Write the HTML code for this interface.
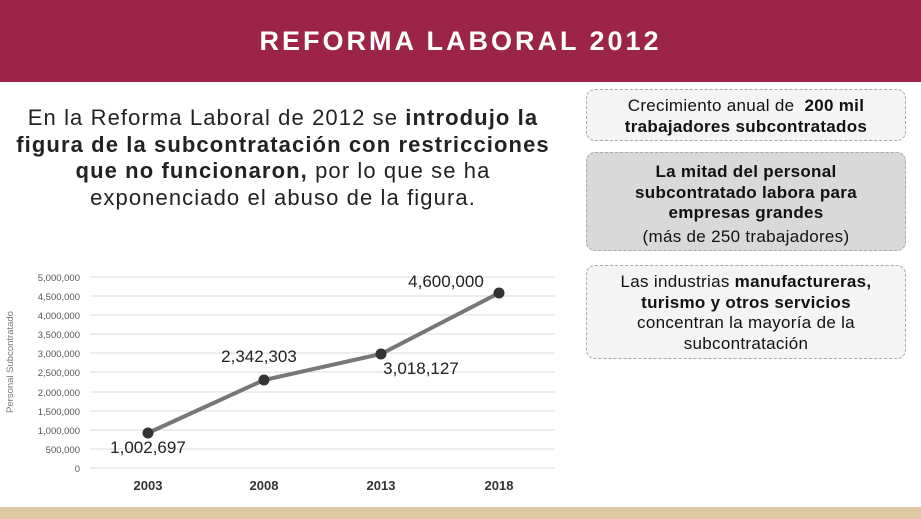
<!DOCTYPE html>
<html><head><meta charset="utf-8"><style>
body{margin:0;width:921px;height:519px;overflow:hidden;background:#fff;font-family:"Liberation Sans",sans-serif;position:relative}
.hdr{position:absolute;left:0;top:0;width:921px;height:82px;background:#9d2449;color:#fff;font-weight:bold;font-size:27px;letter-spacing:3px;text-align:center;line-height:82px}
.bot{position:absolute;left:0;top:507px;width:921px;height:12px;background:#ddc9a3}
.intro{position:absolute;left:0px;top:105px;width:566px;text-align:center;font-size:22px;line-height:26.5px;color:#222;white-space:nowrap;letter-spacing:1.1px}
.box{position:absolute;left:586px;width:320px;border:1px dashed #aaa;border-radius:9px;text-align:center;color:#111;font-size:17px;line-height:20.5px;box-sizing:border-box;white-space:nowrap;letter-spacing:0.3px}
</style></head><body>
<div class="hdr">REFORMA LABORAL 2012</div>
<div class="intro">En la Reforma Laboral de 2012 se <b>introdujo la</b><br><b>figura de la subcontratación con restricciones</b><br><b>que no funcionaron,</b> por lo que se ha<br>exponenciado el abuso de la figura.</div>
<div class="box" style="top:89px;height:52px;background:#f4f4f4;padding-top:6px">Crecimiento anual de &nbsp;<b>200 mil</b><br><b>trabajadores subcontratados</b></div>
<div class="box" style="top:152px;height:99px;background:#d9d9d9;padding-top:9px"><b>La mitad del personal<br>subcontratado labora para<br>empresas grandes</b><br><span style="line-height:25px">(más de 250 trabajadores)</span></div>
<div class="box" style="top:265px;height:94px;background:#f4f4f4;padding-top:6px">Las industrias <b>manufactureras,</b><br><b>turismo y otros servicios</b><br>concentran la mayoría de la<br>subcontratación</div>
<svg width="921" height="519" style="position:absolute;left:0;top:0" font-family="Liberation Sans, sans-serif">
<g stroke="#ddd" stroke-width="1">
<line x1="90" x2="555" y1="277" y2="277"/><line x1="90" x2="555" y1="296" y2="296"/><line x1="90" x2="555" y1="315" y2="315"/><line x1="90" x2="555" y1="334" y2="334"/><line x1="90" x2="555" y1="353" y2="353"/><line x1="90" x2="555" y1="372" y2="372"/><line x1="90" x2="555" y1="392" y2="392"/><line x1="90" x2="555" y1="411" y2="411"/><line x1="90" x2="555" y1="430" y2="430"/><line x1="90" x2="555" y1="449" y2="449"/><line x1="90" x2="555" y1="468" y2="468"/>
</g>
<g font-size="9.5" fill="#555" text-anchor="end">
<text x="80" y="281">5,000,000</text><text x="80" y="300">4,500,000</text><text x="80" y="319">4,000,000</text><text x="80" y="338">3,500,000</text><text x="80" y="357">3,000,000</text><text x="80" y="376">2,500,000</text><text x="80" y="396">2,000,000</text><text x="80" y="415">1,500,000</text><text x="80" y="434">1,000,000</text><text x="80" y="453">500,000</text><text x="80" y="472">0</text>
</g>
<text transform="translate(13,362) rotate(-90)" font-size="9.5" fill="#777" text-anchor="middle">Personal Subcontratado</text>
<polyline points="148,433 264,380 381,354 499,293" fill="none" stroke="#777" stroke-width="4"/>
<g fill="#333"><circle cx="148" cy="433" r="5.5"/><circle cx="264" cy="380" r="5.5"/><circle cx="381" cy="354" r="5.5"/><circle cx="499" cy="293" r="5.5"/></g>
<g font-size="17" fill="#222" text-anchor="middle">
<text x="148" y="453">1,002,697</text><text x="259" y="362">2,342,303</text><text x="421" y="374">3,018,127</text><text x="446" y="287">4,600,000</text>
</g>
<g font-size="13" font-weight="bold" fill="#333" text-anchor="middle">
<text x="148" y="490">2003</text><text x="264" y="490">2008</text><text x="381" y="490">2013</text><text x="499" y="490">2018</text>
</g>
</svg>
<div class="bot"></div>
</body></html>
